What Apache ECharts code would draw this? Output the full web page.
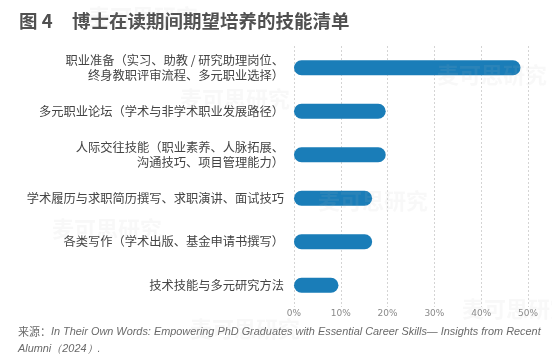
<!DOCTYPE html>
<html><head><meta charset="utf-8">
<script src="https://cdn.jsdelivr.net/npm/echarts@6/dist/echarts.min.js"></script>
<style>html,body{margin:0;padding:0;background:#fff}#c{width:552px;height:364px}</style>
</head><body><div id="c"></div>
<script>
const categories = [
  '职业准备（实习、助教 / 研究助理岗位、\n终身教职评审流程、多元职业选择）',
  '多元职业论坛（学术与非学术职业发展路径）',
  '人际交往技能（职业素养、人脉拓展、\n沟通技巧、项目管理能力）',
  '学术履历与求职简历撰写、求职演讲、面试技巧',
  '各类写作（学术出版、基金申请书撰写）',
  '技术技能与多元研究方法'
];
const values = [48.4, 19.6, 19.6, 16.7, 16.7, 9.5];
const xTicks = [0, 10, 20, 30, 40, 50];
const figLabel = '图 4';
const titleText = '博士在读期间期望培养的技能清单';
const sourceLine1 = 'In Their Own Words: Empowering PhD Graduates with Essential Career Skills— Insights from Recent';
const sourceLine2 = 'Alumni（2024）.';

const chart = echarts.init(document.getElementById('c'), null, {renderer: 'canvas'});
const wmStyle = {text: '麦可思研究', fontSize: 22, fontWeight: 'bold', fontFamily: 'Noto Sans CJK SC', fill: 'rgba(190,190,190,0.10)'};
const wmPos = [[88, 6], [180, 88], [52, 218], [437, 64], [318, 190], [190, 318], [462, 298]];
chart.setOption({
  animation: false,
  backgroundColor: '#fff',
  grid: {left: 294, right: 24, top: 46, bottom: 57, containLabel: false},
  xAxis: {
    type: 'value', min: xTicks[0], max: xTicks[xTicks.length - 1], interval: 10,
    axisLine: {show: false}, axisTick: {show: false},
    axisLabel: {formatter: '{value}%', fontSize: 9, color: '#8a8a8a', margin: 2, fontFamily: 'DejaVu Sans'},
    splitLine: {show: true, lineStyle: {color: '#d4d4d4', type: [2, 2], width: 1}}
  },
  yAxis: {
    type: 'category', data: categories, inverse: true,
    axisLine: {show: false}, axisTick: {show: false},
    axisLabel: {fontSize: 12.25, color: '#444', margin: 10, lineHeight: 15, align: 'right', fontFamily: 'Noto Sans CJK SC'}
  },
  series: [{
    type: 'bar', data: values, barWidth: 15,
    itemStyle: {color: '#1a7db8', borderRadius: 7.5}
  }],
  graphic: [
    {type: 'text', left: 19, top: 12, style: {text: figLabel, fontSize: 18.5, fontWeight: 'bold', fill: '#505050', fontFamily: 'Noto Sans CJK SC'}},
    {type: 'text', left: 72, top: 12, style: {text: titleText, fontSize: 18.5, fontWeight: 'bold', fill: '#505050', fontFamily: 'Noto Sans CJK SC'}},
    {type: 'text', left: 18, top: 326, style: {
      text: '{a|来源：}{b|' + sourceLine1 + '}',
      rich: {
        a: {fontSize: 11, fill: '#6a6a6a', fontFamily: 'Noto Sans CJK SC'},
        b: {fontSize: 10.9, fill: '#6a6a6a', fontStyle: 'italic', fontFamily: 'Liberation Sans'}
      }
    }},
    {type: 'text', left: 18, top: 343, style: {text: sourceLine2, fontSize: 10.9, fill: '#6a6a6a', fontStyle: 'italic', fontFamily: 'Liberation Sans'}}
  ].concat(wmPos.map(p => ({type: 'text', left: p[0], top: p[1], z: 100, silent: true, style: Object.assign({}, wmStyle)})))
});
</script></body></html>
